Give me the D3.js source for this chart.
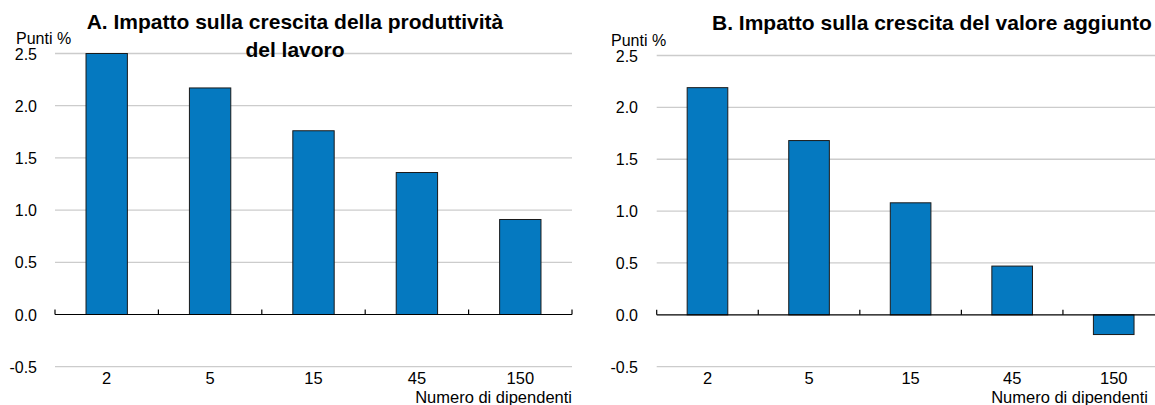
<!DOCTYPE html>
<html>
<head>
<meta charset="utf-8">
<script src="https://cdnjs.cloudflare.com/ajax/libs/d3/7.8.5/d3.min.js"></script>
<style>
  body { margin: 0; background: #fff; }
  text { font-family: "Liberation Sans", Arial, sans-serif; fill: #000; }
</style>
</head>
<body>
<div id="chart-container"></div>
<script>
var categories = ["2", "5", "15", "45", "150"];
var productivityValues = [2.50, 2.17, 1.76, 1.36, 0.91];
var valueAddedValues = [2.19, 1.68, 1.08, 0.47, -0.19];
var yTicks = [-0.5, 0.0, 0.5, 1.0, 1.5, 2.0, 2.5];

var barColor = "#0579C0";

var svg = d3.select("#chart-container")
    .append("svg")
    .attr("width", 1155)
    .attr("height", 405);

function drawPanel(opts) {
    var x = d3.scaleBand()
        .domain(categories)
        .range([opts.left, opts.right])
        .paddingInner(0.6)
        .paddingOuter(0.3);

    var y = d3.scaleLinear()
        .domain([-0.5, 2.5])
        .range([366.7, opts.top]);

    var g = svg.append("g");

    // horizontal grid
    g.selectAll("line.grid")
        .data(yTicks.filter(function (d) { return d !== 0; }))
        .enter().append("line")
        .attr("class", "grid")
        .attr("x1", opts.left)
        .attr("x2", opts.right)
        .attr("y1", function (d) { return y(d); })
        .attr("y2", function (d) { return y(d); })
        .style("stroke", "#cccccc")
        .style("stroke-width", 1.3);

    // y tick labels (plain hyphen for negatives)
    var yAxis = d3.axisLeft(y)
        .tickValues(yTicks)
        .tickFormat(function (d) { return d.toFixed(1); })
        .tickSize(0)
        .tickPadding(0);

    var ya = g.append("g")
        .attr("transform", "translate(" + opts.labelRight + ",0)")
        .call(yAxis);
    ya.select(".domain").remove();
    ya.selectAll("text")
        .attr("dy", "0.35em")
        .style("font-size", "16px")
        .style("font-family", "Liberation Sans, Arial, sans-serif");

    // bars
    g.selectAll("rect.bar")
        .data(opts.values)
        .enter().append("rect")
        .attr("class", "bar")
        .attr("x", function (d, i) { return x(categories[i]); })
        .attr("width", x.bandwidth())
        .attr("y", function (d) { return y(Math.max(0, d)); })
        .attr("height", function (d) { return Math.abs(y(d) - y(0)); })
        .style("fill", barColor)
        .style("stroke", "#1a1a1a")
        .style("stroke-width", 1);

    // zero line with ticks between categories
    g.append("line")
        .attr("x1", opts.left)
        .attr("x2", opts.right)
        .attr("y1", y(0))
        .attr("y2", y(0))
        .style("stroke", "#000")
        .style("stroke-width", 1.2);

    var step = x.step();
    g.selectAll("line.tick")
        .data(d3.range(categories.length + 1))
        .enter().append("line")
        .attr("class", "tick")
        .attr("x1", function (i) { return opts.left + i * step; })
        .attr("x2", function (i) { return opts.left + i * step; })
        .attr("y1", y(0))
        .attr("y2", y(0) - 5)
        .style("stroke", "#000")
        .style("stroke-width", 1.2);

    // category labels
    g.selectAll("text.cat")
        .data(categories)
        .enter().append("text")
        .attr("class", "cat")
        .attr("x", function (d) { return x(d) + x.bandwidth() / 2; })
        .attr("y", 384)
        .attr("text-anchor", "middle")
        .style("font-size", "16.5px")
        .text(function (d) { return d; });

    g.append("text")
        .attr("x", opts.xTitleRight)
        .attr("y", 403)
        .attr("text-anchor", "end")
        .style("font-size", "16.5px")
        .text("Numero di dipendenti");

    g.append("text")
        .attr("x", opts.unitX)
        .attr("y", opts.unitY)
        .style("font-size", "16px")
        .text("Punti %");

    g.selectAll("text.title")
        .data(opts.title)
        .enter().append("text")
        .attr("class", "title")
        .attr("x", opts.titleX)
        .attr("y", function (d, i) { return opts.titleY + i * 28; })
        .attr("text-anchor", opts.titleAnchor)
        .style("font-size", "21px")
        .style("font-weight", "bold")
        .text(function (d) { return d; });
}

drawPanel({
    values: productivityValues,
    left: 55, right: 572, top: 53.5,
    labelRight: 37,
    unitX: 16, unitY: 44,
    xTitleRight: 572,
    title: ["A. Impatto sulla crescita della produttività", "del lavoro"],
    titleX: 295, titleY: 29, titleAnchor: "middle"
});

drawPanel({
    values: valueAddedValues,
    left: 656.7, right: 1164.5, top: 55.5,
    labelRight: 638,
    unitX: 611, unitY: 46,
    xTitleRight: 1148,
    title: ["B. Impatto sulla crescita del valore aggiunto"],
    titleX: 712, titleY: 30, titleAnchor: "start"
});
</script>
</body>
</html>
